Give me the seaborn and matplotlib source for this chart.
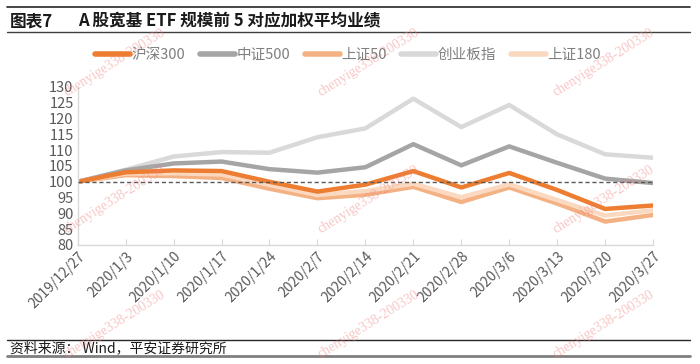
import matplotlib
matplotlib.use('Agg')
import matplotlib.pyplot as plt
import seaborn as sns
import pandas as pd
from matplotlib.lines import Line2D

dates = ['2019/12/27', '2020/1/3', '2020/1/10', '2020/1/17', '2020/1/24', '2020/2/7',
         '2020/2/14', '2020/2/21', '2020/2/28', '2020/3/6', '2020/3/13', '2020/3/20', '2020/3/27']
hs300 = [100, 103.0, 103.6, 103.4, 100.0, 96.9, 99.1, 103.4, 98.2, 102.8, 97.4, 91.4, 92.5]
zz500 = [100, 103.6, 105.8, 106.4, 104.0, 102.9, 104.6, 111.9, 105.2, 111.2, 106.0, 101.0, 99.6]
sz50 = [100, 102.1, 101.8, 101.2, 97.8, 94.8, 95.9, 98.4, 93.6, 98.2, 93.1, 87.4, 89.5]
cyb = [100, 103.8, 108.0, 109.4, 109.2, 114.1, 116.9, 126.3, 117.3, 124.3, 115.0, 108.7, 107.6]
sz180 = [100, 102.6, 102.7, 102.3, 99.0, 95.8, 97.1, 99.4, 95.1, 99.2, 94.2, 89.3, 91.0]

names = ['沪深300', '中证500', '上证50', '创业板指', '上证180']
colors = ['#ED7D31', '#A5A5A5', '#F4B183', '#D9D9D9', '#FBD9C0']

df = pd.DataFrame({'date': dates, '沪深300': hs300, '中证500': zz500, '上证50': sz50,
                   '创业板指': cyb, '上证180': sz180})
long = df.melt(id_vars='date', var_name='指数', value_name='业绩')

sns.set_style('white')
plt.rcParams['font.family'] = ['Noto Sans CJK SC', 'DejaVu Sans']
plt.rcParams['axes.unicode_minus'] = False

fig = plt.figure(figsize=(7, 3.64), dpi=100)
ax = fig.add_axes([0.111, 0.327, 0.822, 0.434])

# draw order: light ones first, main orange last
order = ['创业板指', '中证500', '上证50', '上证180', '沪深300']
pal = dict(zip(names, colors))
for n in order:
    sns.lineplot(data=long[long['指数'] == n], x='date', y='业绩', color=pal[n],
                 lw=3.2, ax=ax, legend=False, sort=False)

ax.axhline(100, color='#595959', lw=1, ls=(0, (3, 2)), zorder=10)

ax.set_xlim(0, len(dates) - 1)
ax.set_ylim(80, 130)
ax.set_yticks(range(80, 131, 5))
ax.set_xlabel('')
ax.set_ylabel('')
for s in ['top', 'right']:
    ax.spines[s].set_visible(False)
for s in ['left', 'bottom']:
    ax.spines[s].set_color('#D9D9D9')
    ax.spines[s].set_linewidth(1)
ax.tick_params(axis='y', length=0, labelsize=10.5, labelcolor='#595959', pad=3)
ax.tick_params(axis='x', direction='in', length=4, color='#D9D9D9',
               labelsize=10, labelcolor='#595959', pad=3, bottom=True)
for lab in ax.get_xticklabels():
    lab.set_rotation(45)
    lab.set_ha('right')
    lab.set_rotation_mode('anchor')

handles = [Line2D([], [], color=c, lw=4) for c in colors]
fig.legend(handles, names, ncol=5, loc='center', bbox_to_anchor=(0.497, 0.849),
           frameon=False, fontsize=10.5, labelcolor='#7F7F7F', handlelength=2.4,
           handletextpad=0.1, columnspacing=1.0)

# title block
fig.add_artist(Line2D([0.01, 0.986], [1 - 7 / 364] * 2, color='#262626', lw=1.2))
fig.add_artist(Line2D([0.01, 0.986], [1 - 32 / 364] * 2, color='#404040', lw=1))
fig.text(0.014, 1 - 21 / 364, '图表7', fontsize=12, fontweight='bold', va='center', color='#1a1a1a')
fig.text(0.112, 1 - 21 / 364, 'A 股宽基 ETF 规模前 5 对应加权平均业绩', fontsize=12,
         fontweight='bold', va='center', color='#1a1a1a')

# source block
fig.add_artist(Line2D([0.01, 0.986], [1 - 340 / 364] * 2, color='#262626', lw=1))
fig.add_artist(Line2D([0.01, 0.986], [1 - 356 / 364] * 2, color='#7F7F7F', lw=2))
fig.text(0.014, 1 - 348 / 364, '资料来源： Wind，平安证券研究所', fontsize=10, style='italic',
         va='center', color='#1a1a1a')

# watermarks
for x0 in [67, 321, 556]:
    for y0 in [96, 233, 358]:
        fig.text(x0 / 700, 1 - y0 / 364, 'chenyige338-200330', fontsize=10,
                 family='Liberation Serif', color='#F08080', alpha=0.45, rotation=32,
                 rotation_mode='anchor', ha='left', va='baseline')

fig.savefig('out.png', dpi=100)
